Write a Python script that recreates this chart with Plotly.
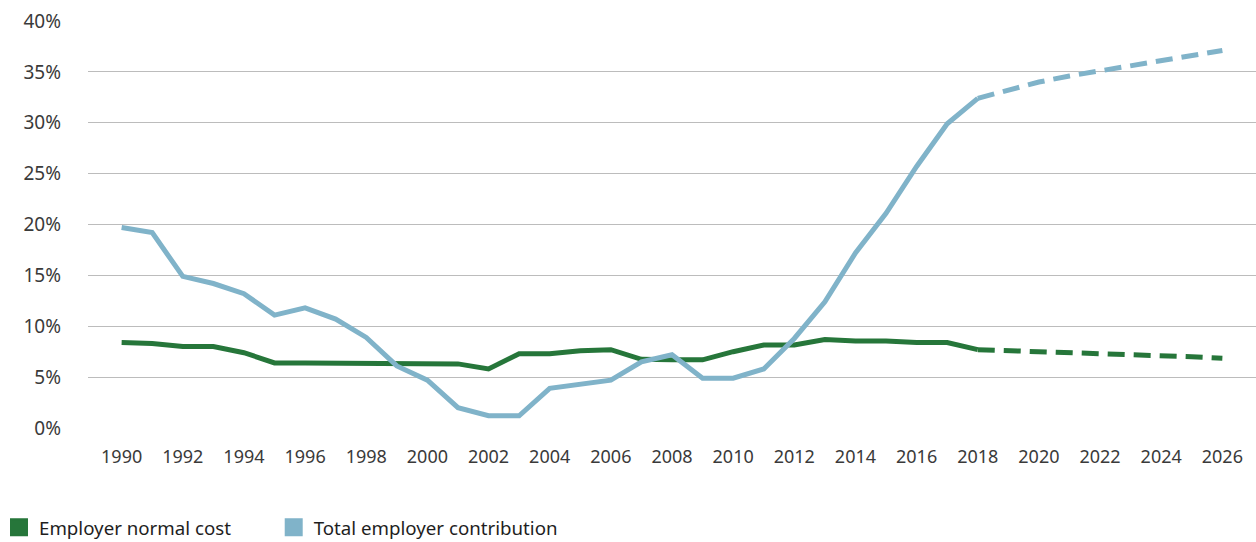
import plotly.graph_objects as go

years = list(range(1990, 2027))
projection_start = 2018

normal_cost = [8.4, 8.3, 8.0, 8.0, 7.4, 6.4, 6.4, 6.4, 6.4, 6.4, 6.4, 6.3, 5.8,
               7.3, 7.3, 7.6, 7.7, 6.75, 6.7, 6.7, 7.5, 8.15, 8.15, 8.7, 8.55,
               8.55, 8.4, 8.4, 7.7, 7.6, 7.6, 7.5, 7.3, 7.25, 7.1, 7.0, 6.85]
total_contribution = [19.7, 19.2, 14.9, 14.2, 13.2, 11.1, 11.8, 10.7, 8.9, 6.1,
                      4.7, 2.0, 1.2, 1.2, 3.9, 4.3, 4.7, 6.5, 7.2, 4.9, 4.9, 5.8,
                      8.8, 12.4, 17.2, 21.1, 25.7, 29.9, 32.4, 33.2, 34.0, 34.6,
                      35.1, 35.7, 36.2, 36.7, 37.1]

series_names = ["Employer normal cost", "Total employer contribution"]
y_ticks = [0, 5, 10, 15, 20, 25, 30, 35, 40]
y_tick_labels = [f"{v}%" for v in y_ticks]
x_ticks = list(range(1990, 2027, 2))

GREEN = "#26763a"
BLUE = "#80b3c9"

fig = go.Figure()

for name, vals, color, leg in [(series_names[0], normal_cost, GREEN, "legend"),
                               (series_names[1], total_contribution, BLUE, "legend2")]:
    hx = [y for y in years if y <= projection_start]
    hy = [v for y, v in zip(years, vals) if y <= projection_start]
    px = [y for y in years if y >= projection_start]
    py = [v for y, v in zip(years, vals) if y >= projection_start]
    fig.add_trace(go.Scatter(x=hx, y=hy, mode="lines", showlegend=False,
                             line=dict(color=color, width=5)))
    fig.add_trace(go.Scatter(x=px, y=py, mode="lines", showlegend=False,
                             line=dict(color=color, width=5, dash="17px,9px")))
    fig.add_trace(go.Scatter(x=[None], y=[None], mode="markers", name=name,
                             legend=leg,
                             marker=dict(symbol="square", size=20, color=color,
                                         line=dict(color=color, width=2))))

legend_common = dict(orientation="h", xanchor="left", y=-0.245,
                     yanchor="middle", font=dict(size=18.7, color="#1e1e1e"),
                     itemclick=False, itemdoubleclick=False,
                     bgcolor="rgba(0,0,0,0)")

fig.update_layout(
    width=1256, height=542,
    margin=dict(l=88, r=0, t=21, b=114, autoexpand=False),
    paper_bgcolor="white", plot_bgcolor="white",
    font=dict(family="Noto Sans", size=18, color="#3a3a3a"),
    xaxis=dict(range=[1988.9, 2027.1], tickvals=x_ticks,
               ticktext=[str(t) for t in x_ticks], automargin=False,
               showgrid=False, zeroline=False, showline=False,
               ticks="", ticklabelstandoff=16),
    yaxis=dict(range=[0, 40], tickvals=y_ticks, ticktext=y_tick_labels,
               automargin=False,
               showgrid=True, gridcolor="#bcbcbc", gridwidth=1,
               zeroline=False, showline=False, ticks="", ticklabelstandoff=26,
               tickfont=dict(size=19)),
    legend=dict(x=-0.0762, **legend_common),
    legend2=dict(x=0.1590, **legend_common),
    showlegend=True,
)

fig.write_html("out.html", config={"displayModeBar": False},
               post_script="document.body.style.margin='0px';document.body.style.overflow='hidden';")
